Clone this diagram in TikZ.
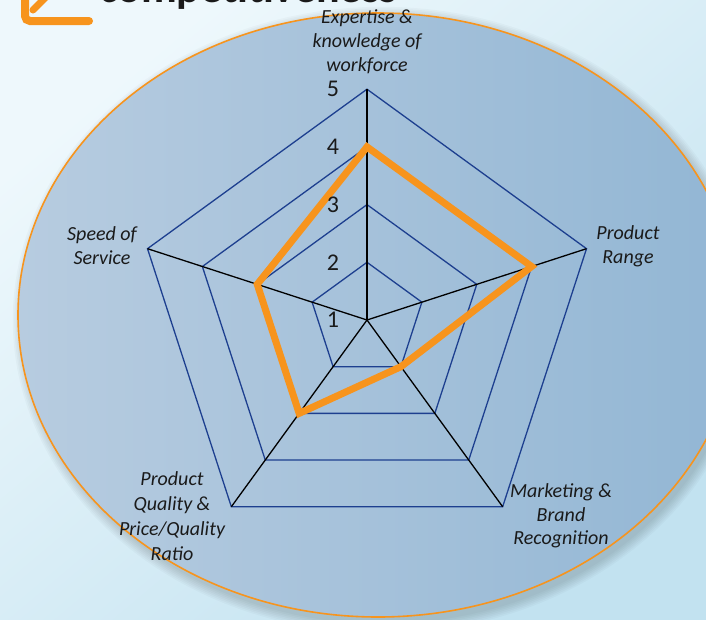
\documentclass[tikz,border=0pt]{standalone}
\usepackage{fontspec}
\setmainfont{Carlito}
\usetikzlibrary{calc}
\definecolor{bgA}{HTML}{EEF8FC}
\definecolor{bgB}{HTML}{C2E2F0}
\definecolor{elA}{HTML}{B7CCE0}
\definecolor{elB}{HTML}{92B6D4}
\definecolor{gridblue}{HTML}{1D3F8F}
\definecolor{orng}{HTML}{F7941D}
\definecolor{txt}{HTML}{1A1A1A}
\begin{document}
\begin{tikzpicture}[x=1pt,y=-1pt,
  grid/.style={gridblue, line width=1.3pt, line join=miter},
  spoke/.style={black, line width=1.3pt},
  series/.style={orng, line width=7pt, line join=miter},
  axislabel/.style={font=\fontsize{20}{24}\selectfont\itshape, text=txt, align=center, inner sep=0pt},
  ticklabel/.style={font=\fontsize{24}{24}\selectfont, text=txt, inner sep=0pt},
  iconstroke/.style={orng, line width=8pt, line cap=round}]
\useasboundingbox (0,0) rectangle (706,619);
\clip (0,0) rectangle (706,619);
% background
\shade[top color=bgA, bottom color=bgB, shading angle=40] (0,0) rectangle (706,619);
% soft shadow of the disc
\foreach \k in {1,...,7}
  \fill[black, opacity=0.022] (382,320) ellipse [x radius={358+\k*1.6}, y radius={302+\k*1.6}];
% disc
\shade[left color=elA, right color=elB] (378,315) ellipse [x radius=360, y radius=302];
\draw[orng, line width=1.6pt] (378,315) ellipse [x radius=360, y radius=302];
% radar geometry
\coordinate (O) at (367,320);
\foreach \i/\a in {1/-90,2/-18,3/54,4/126,5/198} {
  \foreach \l in {2,3,4,5} {
    \coordinate (g\l-\i) at ($(O)+(\a:{(\l-1)*57.7})$);
  }
}
\foreach \l in {2,3,4,5}
  \draw[grid] (g\l-1) -- (g\l-2) -- (g\l-3) -- (g\l-4) -- (g\l-5) -- cycle;
\foreach \i in {1,...,5}
  \draw[spoke] (O) -- (g5-\i);
% data: 4,4,2,3,3
\draw[series] (g4-1) -- (g4-2) -- (g2-3) -- (g3-4) -- (g3-5) -- cycle;
% scale numbers
\foreach \l in {1,...,5}
  \node[ticklabel] (t\l) at (333,{320-(\l-1)*57.7}) {\l};
% axis labels
\node[axislabel] (lExp) at (367,42) {Expertise \&\\knowledge of\\workforce};
\node[axislabel] (lRange) at (628,246) {Product\\Range};
\node[axislabel] (lSpeed) at (102,246) {Speed of\\Service};
\node[axislabel, font=\fontsize{20}{25}\selectfont\itshape] (lQual) at (172,516) {Product\\Quality \&\\Price/Quality\\Ratio};
\node[axislabel, font=\fontsize{20}{23.5}\selectfont\itshape] (lMkt) at (561,516) {Marketing \&\\Brand\\Recognition};
% cut-off title and icon
\node[anchor=base west, inner sep=0pt, font=\fontsize{44}{44}\selectfont\bfseries, text=txt] (title) at (99,2) {competitiveness};
\draw[iconstroke, rounded corners=5pt] (25,-12) -- (25,21) -- (89,21);
\draw[iconstroke, line width=7pt] (33,10) -- (49,-6);
\end{tikzpicture}
\end{document}
